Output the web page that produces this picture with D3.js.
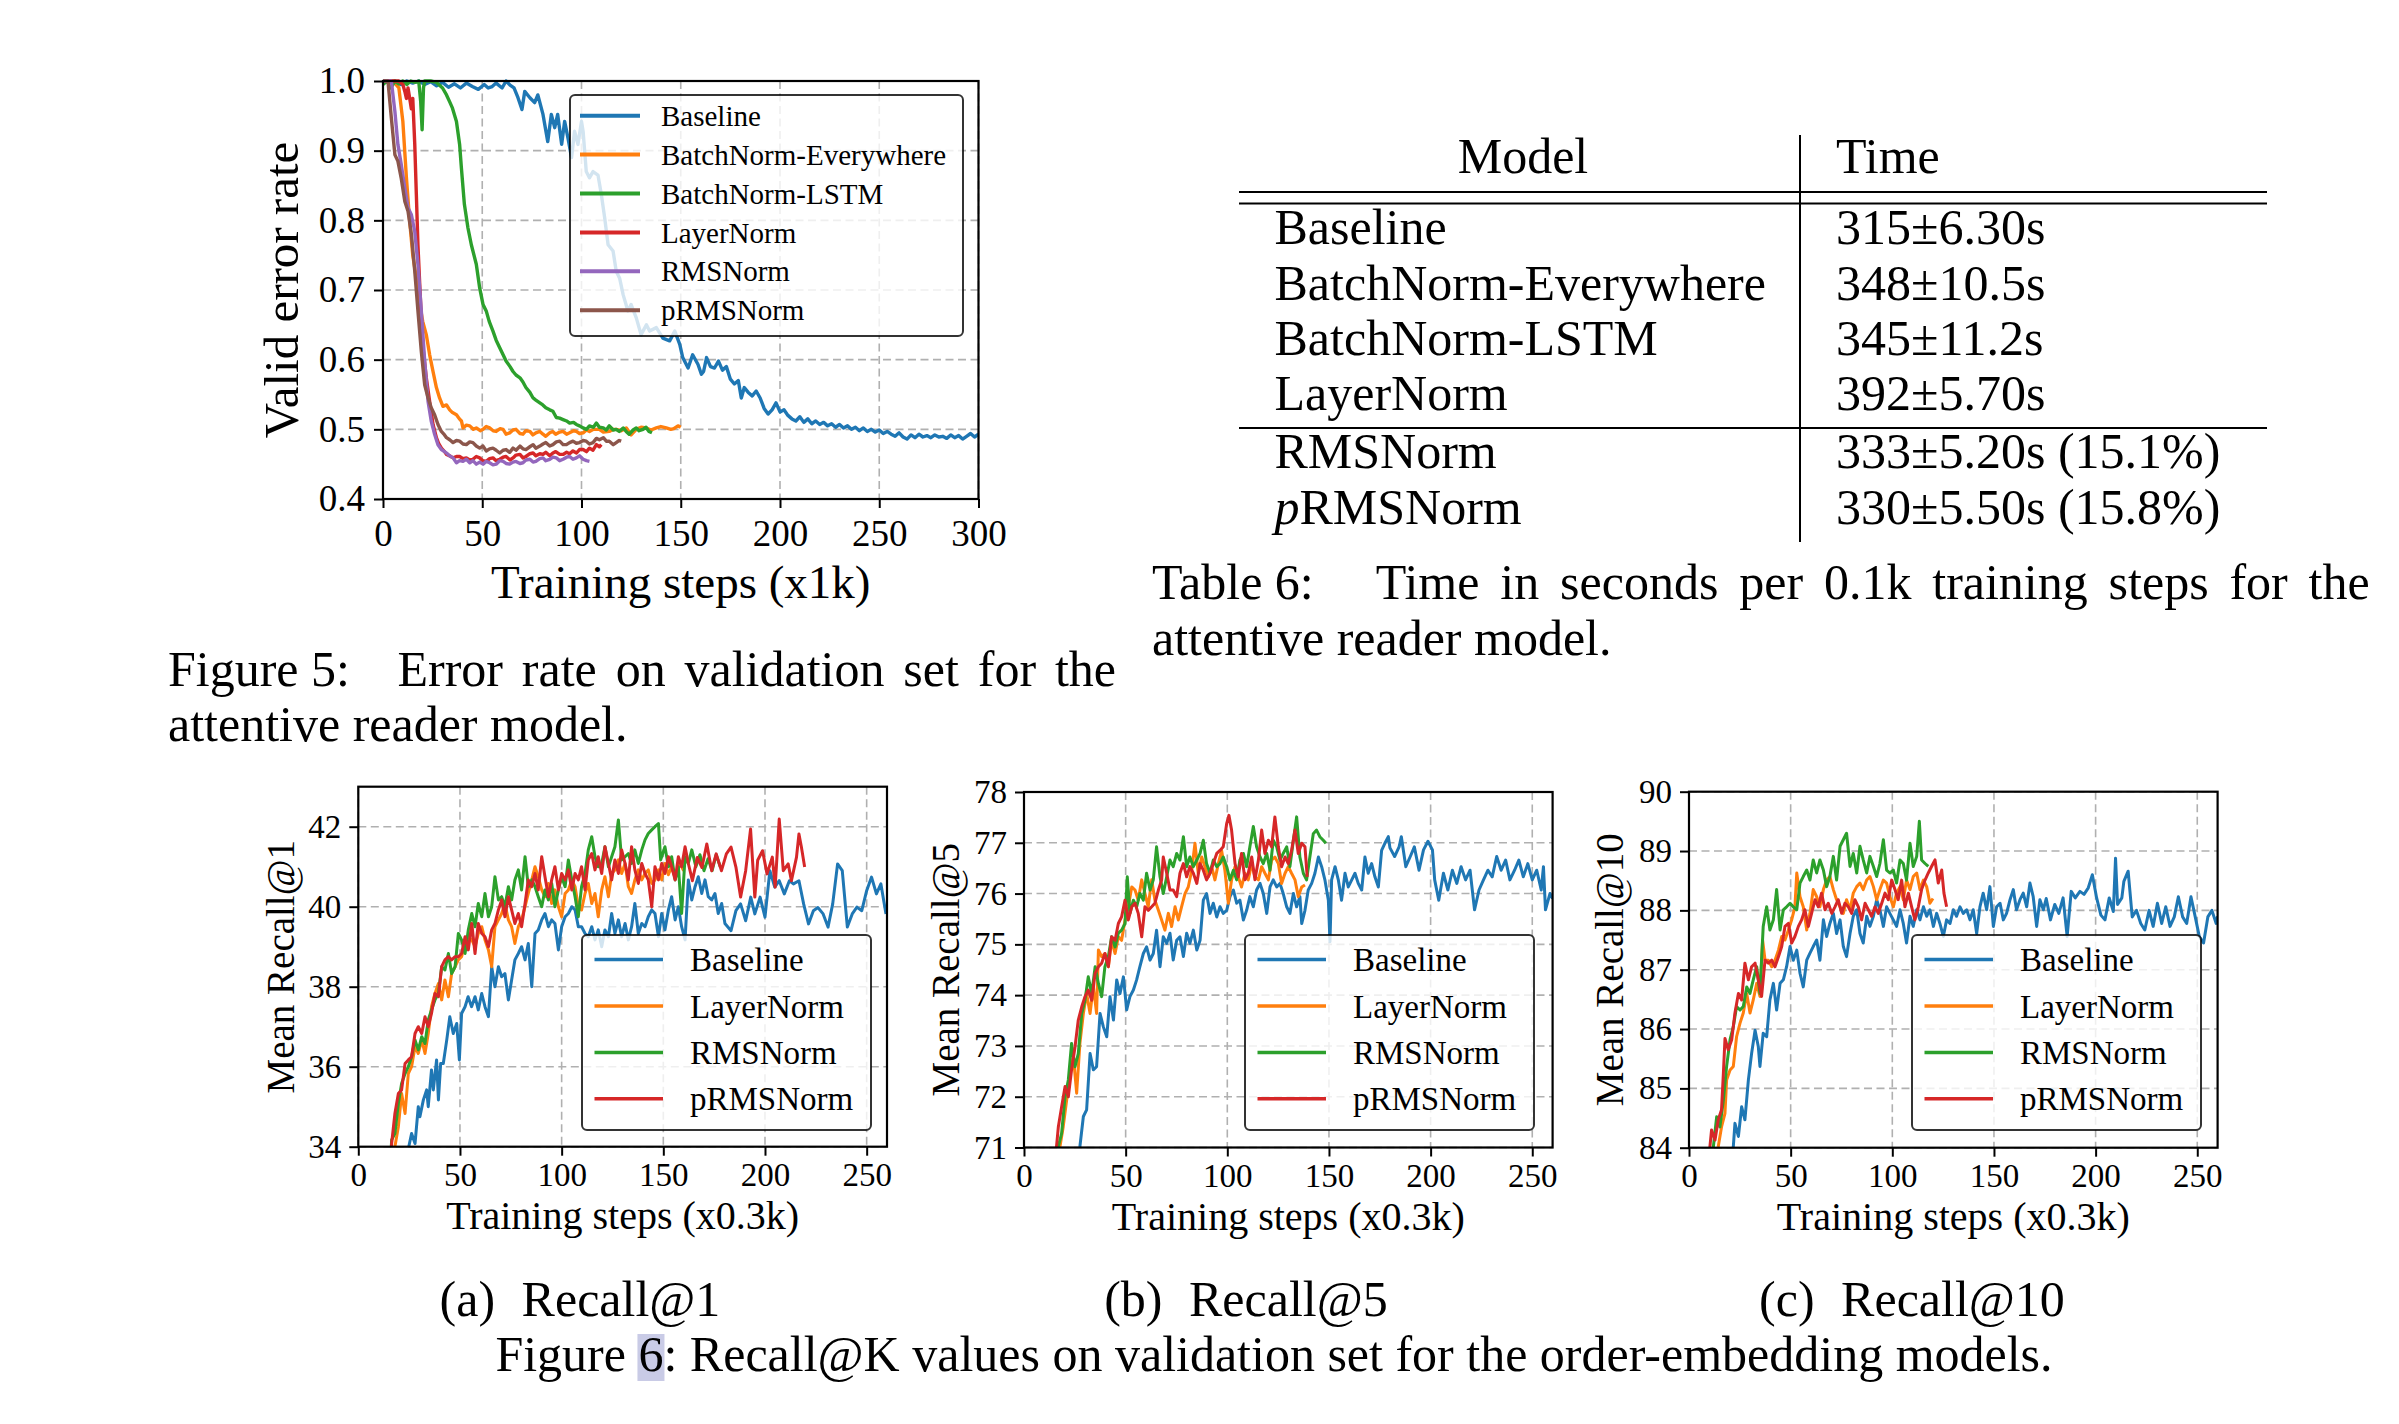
<!DOCTYPE html>
<html><head><meta charset="utf-8">
<script src="https://cdn.jsdelivr.net/npm/d3@7"></script>
<style>
body{margin:0;background:#fff}
svg{display:block}
text{font-family:"Liberation Serif","Times New Roman",serif;fill:#000}
</style>
</head><body>
<svg id="c" width="2399" height="1424"></svg>
<script>
// ---------------- DATA ----------------
const errSeriesNames = ["Baseline","BatchNorm-Everywhere","BatchNorm-LSTM","LayerNorm","RMSNorm","pRMSNorm"];
const errXTicks = [0,50,100,150,200,250,300];
const errYTicks = [0.4,0.5,0.6,0.7,0.8,0.9,1.0];

const errBaseline = [[0,1.0],[3,0.998],[6,1.0],[9,0.995],[12,1.0],[15,0.997],[18,1.0],[21,0.995],[24,0.999],[27,0.993],[30,0.998],[33,0.991],[36,0.996],[39,0.99],[42,0.997],[45,0.992],[48,0.988],[51,0.995],[53,0.99],[55,0.992],[57,0.997],[60,0.99],[62,1.0],[64,0.994],[66,0.99],[68,0.976],[70,0.959],[71.4,0.985],[74,0.976],[76.4,0.969],[78,0.98],[80.6,0.952],[83,0.913],[84.8,0.952],[86.5,0.933],[88,0.952],[90,0.909],[91.5,0.942],[93.2,0.918],[95,0.89],[96.5,0.928],[98.2,0.909],[100,0.942],[100.8,0.928],[102.4,0.87],[104,0.861],[105.8,0.87],[108.3,0.865],[110,0.837],[111.7,0.803],[113.4,0.765],[115.9,0.756],[117.5,0.727],[119.2,0.717],[121,0.693],[123.4,0.67],[125,0.679],[127.6,0.66],[130,0.636],[132.7,0.65],[134.3,0.641],[137.7,0.646],[141,0.631],[144.4,0.627],[147,0.641],[149.5,0.622],[151,0.603],[153.7,0.588],[156,0.607],[158.7,0.593],[160.4,0.579],[161.5,0.583],[163,0.603],[165,0.59],[167,0.588],[169,0.598],[171,0.585],[173,0.59],[175,0.572],[177,0.565],[179,0.57],[180.5,0.545],[182,0.56],[184,0.553],[186,0.548],[188,0.555],[190,0.545],[192,0.53],[194,0.522],[196,0.528],[198,0.538],[200,0.525],[202,0.528],[204,0.52],[206,0.515],[208,0.512],[210,0.518],[212,0.51],[214,0.515],[216,0.508],[218,0.512],[220,0.507],[222,0.51],[224,0.505],[226,0.508],[228,0.503],[230,0.507],[232,0.502],[234,0.505],[236,0.5],[238,0.503],[240,0.498],[242,0.502],[244,0.497],[246,0.5],[248,0.496],[250,0.499],[252,0.494],[254,0.497],[256,0.493],[258,0.49],[260,0.495],[262,0.489],[264,0.486],[266,0.492],[268,0.488],[270,0.493],[272,0.489],[274,0.491],[276,0.488],[278,0.492],[280,0.489],[282,0.49],[284,0.487],[286,0.492],[288,0.488],[290,0.491],[292,0.486],[294,0.49],[296,0.494],[298,0.489],[300,0.493]];
const errBNEverywhere = [[0,1.0],[5,1.0],[8,0.99],[10,0.942],[11.8,0.861],[13.4,0.80],[15,0.75],[16.8,0.717],[18.5,0.68],[20,0.655],[21.8,0.636],[23.5,0.607],[25.2,0.583],[26.9,0.56],[28.5,0.545],[30.2,0.533],[32,0.535],[33.6,0.528],[35,0.524],[37,0.521],[38.5,0.515],[39.5,0.512],[40.3,0.502],[42,0.506],[43.7,0.505],[45.5,0.5],[47,0.502],[49,0.498],[50.4,0.5],[52,0.504],[53.7,0.502],[55.5,0.498],[57,0.497],[59,0.501],[60.5,0.5],[62,0.493],[63.8,0.495],[65.5,0.499],[67,0.5],[69,0.494],[70.5,0.493],[72,0.498],[74,0.497],[75.5,0.492],[77,0.495],[79,0.497],[80.6,0.493],[82,0.49],[84,0.495],[85.5,0.497],[87,0.493],[89,0.496],[90.7,0.497],[92.5,0.493],[94,0.495],[96,0.498],[97.4,0.497],[99,0.494],[100.8,0.495],[102.5,0.499],[104,0.497],[106,0.5],[109,0.5],[111,0.496],[114,0.497],[116,0.5],[117.5,0.5],[120,0.498],[122.6,0.502],[125,0.492],[127.6,0.5],[130,0.503],[132.7,0.502],[135,0.499],[137.7,0.502],[140,0.504],[142.7,0.502],[145,0.5],[146.5,0.501],[148.6,0.505],[150,0.503]];
const errBNLSTM = [[0,0.995],[2,1.0],[4,0.99],[6,1.0],[8,0.996],[10,1.0],[12,0.995],[14,1.0],[16,0.998],[18,1.0],[19,0.97],[19.7,0.93],[20.4,0.99],[21,1.0],[24,1.0],[27,0.998],[30,0.99],[32,0.98],[33.6,0.97],[35,0.961],[37,0.942],[38.6,0.909],[39.5,0.875],[41,0.823],[42.8,0.789],[44.5,0.765],[47,0.737],[48.7,0.703],[50.4,0.679],[52,0.67],[53.5,0.655],[55.4,0.641],[57,0.628],[58.8,0.617],[60.5,0.607],[62,0.598],[64,0.59],[65.5,0.583],[67,0.578],[69,0.574],[70.5,0.568],[72,0.56],[74,0.553],[75.6,0.545],[77,0.542],[79,0.538],[80.5,0.535],[82,0.531],[84,0.528],[85.6,0.526],[87.3,0.517],[89,0.516],[90.7,0.514],[92.5,0.512],[94,0.509],[96,0.51],[97.4,0.507],[99,0.505],[100.8,0.502],[102.5,0.5],[104,0.505],[106,0.503],[107.5,0.509],[109,0.503],[111,0.502],[112.5,0.499],[114,0.505],[116,0.499],[117.5,0.5],[119,0.497],[121,0.502],[122.5,0.497],[124,0.493],[126,0.499],[127.6,0.502],[129,0.498],[131,0.5],[132.5,0.503],[134,0.497],[135.5,0.495]];
const errLayerNorm = [[0,1.0],[4,1.0],[8,1.0],[10,0.995],[11,0.985],[11.8,0.975],[12.6,0.99],[13.4,0.976],[14.3,0.96],[15,0.975],[16,0.909],[16.8,0.837],[17.6,0.765],[18.5,0.708],[19.3,0.66],[20,0.622],[21.8,0.574],[23.5,0.54],[25.2,0.507],[26.9,0.488],[28,0.48],[29.4,0.473],[31,0.468],[32,0.464],[33.5,0.462],[35.3,0.459],[37,0.461],[38.6,0.461],[40.3,0.458],[42,0.459],[43.7,0.456],[45.3,0.457],[47,0.461],[48.7,0.459],[50.3,0.455],[52,0.454],[53.7,0.458],[55.4,0.459],[57,0.455],[58.8,0.457],[60.5,0.46],[62,0.461],[64,0.456],[65.5,0.459],[67,0.463],[69,0.464],[70.5,0.459],[72,0.461],[74,0.465],[75.6,0.466],[77,0.462],[79,0.465],[80.6,0.464],[82,0.467],[84,0.462],[85.6,0.466],[87,0.468],[89,0.464],[90.7,0.464],[92.5,0.467],[94,0.465],[95.7,0.469],[97.5,0.466],[99,0.471],[100.8,0.471],[102.5,0.468],[104,0.473],[105.8,0.47],[107.5,0.478],[109,0.475],[110,0.478]];
const errRMSNorm = [[0,1.0],[3,1.0],[4.2,1.0],[6,0.956],[7.5,0.909],[9.2,0.88],[11,0.846],[12.6,0.818],[14.3,0.808],[16,0.784],[17.6,0.737],[19.3,0.67],[21,0.598],[22.7,0.54],[24.3,0.512],[26,0.493],[27.7,0.478],[29.4,0.471],[31,0.468],[32,0.466],[33.5,0.462],[35.3,0.459],[37,0.452],[38.6,0.455],[40.3,0.454],[42,0.457],[43.7,0.452],[45.3,0.455],[47,0.45],[48.7,0.453],[50.4,0.45],[52,0.454],[53.7,0.452],[55.4,0.449],[57,0.45],[58.8,0.455],[60.5,0.454],[62,0.451],[63.8,0.45],[65.5,0.453],[67,0.454],[69,0.451],[70.5,0.452],[72,0.456],[74,0.457],[75.6,0.453],[77,0.454],[79,0.458],[80.6,0.459],[82,0.455],[84,0.457],[85.6,0.46],[87.3,0.459],[89,0.455],[90.7,0.457],[92.5,0.46],[94,0.461],[95.7,0.457],[97.4,0.459],[99,0.462],[100.8,0.457],[102.5,0.455],[104,0.454]];
const errPRMSNorm = [[0,1.0],[2.5,1.0],[4.2,0.947],[6,0.894],[7.5,0.885],[9.2,0.86],[11,0.827],[12.6,0.813],[14.3,0.78],[16,0.727],[17.6,0.67],[19.3,0.612],[21,0.564],[22.7,0.545],[24.3,0.531],[26,0.521],[27.7,0.507],[29.4,0.497],[31,0.492],[32,0.488],[33.6,0.485],[35.3,0.481],[37,0.484],[38.6,0.483],[40.3,0.479],[42,0.478],[43.7,0.482],[45.3,0.481],[47,0.476],[48.7,0.473],[50.4,0.476],[52,0.469],[53.7,0.472],[55.4,0.473],[57,0.47],[58.8,0.466],[60.5,0.47],[62,0.471],[63.8,0.467],[65.5,0.473],[67,0.47],[69,0.476],[70.5,0.472],[72,0.471],[74,0.475],[75.6,0.478],[77,0.473],[79,0.476],[80.6,0.479],[82,0.481],[84,0.476],[85.6,0.478],[87.3,0.482],[89,0.483],[90.7,0.478],[92.4,0.478],[94,0.481],[95.7,0.483],[97.4,0.48],[99,0.481],[100.8,0.484],[102.4,0.483],[104,0.479],[105.8,0.481],[107.5,0.487],[109,0.485],[111,0.488],[112.5,0.483],[114,0.483],[116,0.478],[117.5,0.481],[119,0.484],[120,0.483]];

const recallSeriesNames = ["Baseline","LayerNorm","RMSNorm","pRMSNorm"];
const recallXTicks = [0,50,100,150,200,250];
const r1YTicks = [34,36,38,40,42];
const r5YTicks = [71,72,73,74,75,76,77,78];
const r10YTicks = [84,85,86,87,88,89,90];

const r1Baseline = [[24,33.8],[26.2,34.33],[27.9,34.08],[29.5,35.0],[30.3,34.75],[32,35.17],[33.6,35.42],[34.4,35.0],[36,35.92],[36.9,35.42],[38.5,36.17],[39.4,35.17],[40.5,36.08],[41.8,36.08],[43.5,36.67],[45,37.25],[46.7,36.83],[48.4,37.08],[49.7,36.17],[50.8,37.33],[52.5,37.5],[54,37.75],[55.7,37.5],[57.4,37.75],[59,37.42],[60.7,37.83],[62.3,37.5],[64,37.25],[65.6,38.5],[67.2,38.0],[68.9,38.5],[70.5,38.25],[72.1,38.33],[73.8,37.67],[75.4,38.17],[77,38.67],[78.7,38.83],[80.3,39.0],[82,38.67],[83.6,39.08],[85.3,38.0],[86.9,39.33],[88.5,39.42],[90.2,39.67],[91.8,39.83],[93.5,39.5],[95.1,39.67],[96.7,39.58],[98.4,38.92],[100,39.5],[101.7,39.75],[103.3,39.83],[105,40.0],[106.6,39.92],[108.2,39.5],[109.8,39.5],[111.5,39.33],[113.1,39.25],[114.8,39.5],[116.4,39.17],[118,39.42],[119.7,39.0],[121.3,39.42],[123,39.25],[124.6,39.83],[126.2,39.33],[127.9,39.67],[129.5,39.25],[131.2,39.58],[132.8,39.17],[134.4,39.5],[136,40.08],[137.7,39.33],[139.4,39.58],[141,39.5],[142.6,39.75],[144.3,39.92],[145.9,39.83],[147.6,39.25],[149.2,39.83],[150.8,39.42],[152.5,39.92],[154.1,40.25],[155.8,39.67],[157.4,40.0],[159,39.5],[160.7,39.17],[162.3,40.67],[164,40.17],[165.6,40.5],[167.2,40.75],[168.9,40.33],[170.5,40.67],[172.1,40.25],[173.8,40.17],[175.4,40.33],[177,39.83],[178.7,40.08],[180.3,39.58],[183.3,39.4],[185.7,39.9],[188,40.07],[190.5,39.65],[193,40.24],[195,39.82],[197.6,40.24],[200,39.74],[202.4,40.9],[204.8,40.49],[207,40.65],[209.5,40.32],[212,40.65],[214,40.57],[216.7,40.65],[219,40.07],[221.4,39.57],[223.8,39.9],[226,39.98],[228.6,39.82],[231,39.49],[233.3,40.07],[235.7,41.07],[238,40.9],[240.5,39.49],[242.9,39.82],[245.2,39.99],[247.6,39.9],[250,40.4],[252.4,40.74],[254.8,40.32],[257,40.57],[259.5,39.82]];
const r1LayerNorm = [[17,33.8],[18,34.0],[19.7,34.5],[21.3,35.33],[23,34.83],[24.6,35.83],[26.2,36.0],[27.9,36.5],[29.5,36.33],[31.2,36.67],[32.8,36.33],[34.4,36.83],[36,37.5],[37.7,37.83],[39.4,38.08],[41,37.67],[42.6,38.17],[44.3,37.75],[45.9,38.33],[47.6,38.5],[49.2,38.67],[50.8,38.75],[52.5,39.08],[54.1,39.25],[55.8,39.17],[57.4,39.0],[59,39.33],[60.7,39.5],[62.3,39.17],[64,38.92],[65.6,38.5],[67.2,39.5],[68.9,39.67],[70.5,39.83],[72.1,40.08],[73.8,39.67],[75.4,39.5],[77,39.08],[78.7,39.5],[80.3,39.67],[82,40.0],[83.6,40.33],[85.3,40.67],[86.9,41.0],[88.5,40.75],[90.2,40.42],[91.8,40.25],[93.5,40.58],[95.1,40.08],[96.7,40.42],[98.4,40.0],[100,39.75],[101.7,40.33],[103.3,40.42],[105,40.67],[106.6,40.5],[108.2,40.0],[109.8,39.92],[111.5,40.33],[113.1,40.58],[114.8,40.08],[116.4,40.33],[118,39.75],[119.7,40.42],[121.3,40.75],[123,40.25],[124.6,40.83],[126.2,40.92],[127.9,41.17],[129.5,40.83],[131.2,41.08],[132.8,40.5],[134.4,40.33],[136,40.67],[137.7,40.92],[139.4,40.67],[141,40.83],[142.6,40.92],[144.3,40.58],[145.9,40.67],[147.6,40.92],[149.2,40.67],[150.8,41.08],[152.5,40.8],[154,41.0],[156,40.7],[158,41.1],[160,40.9]];
const r1RMSNorm = [[16,33.8],[16.4,34.17],[18,34.33],[19.7,35.08],[21.3,35.58],[23,35.83],[24.6,36.0],[26.2,36.25],[27.9,36.67],[29.5,36.42],[31.2,36.75],[32.8,36.58],[34.4,37.17],[36,37.42],[37.7,37.67],[39.4,37.83],[41,38.5],[42.6,38.42],[44.3,38.83],[45.9,38.33],[47.6,38.5],[49.2,39.33],[50.8,39.17],[52.5,38.83],[54.1,39.42],[55.8,39.83],[57.4,39.5],[59,40.08],[60.7,39.75],[62.3,40.33],[64,39.75],[65.6,40.0],[67.2,40.75],[68.9,40.17],[70.5,40.25],[72.1,40.0],[73.8,40.5],[75.4,40.17],[77,40.67],[78.7,40.92],[80.3,40.42],[82,41.25],[83.6,40.5],[85.3,40.67],[86.9,40.5],[88.5,40.25],[90.2,40.0],[91.8,40.42],[93.5,40.17],[95.1,40.58],[96.7,40.0],[98.4,40.42],[100,40.75],[101.7,40.5],[103.3,41.17],[105,40.67],[106.6,40.25],[108.2,39.75],[109.8,40.5],[111.5,40.83],[113.1,41.42],[114.8,41.75],[116.4,41.25],[118,41.0],[119.7,41.08],[121.3,41.5],[123,41.0],[124.6,41.25],[126.2,41.5],[127.9,42.17],[129.5,41.17],[131.2,41.25],[132.8,41.33],[134.4,41.08],[136,41.42],[137.7,41.08],[139.4,41.42],[141,41.67],[142.6,41.83],[144.3,41.92],[145.9,42.0],[147.6,42.08],[148.7,41.17],[150.8,41.5],[152.5,41.0],[154.1,41.25],[155.8,40.67],[157.4,41.0],[159,39.83],[160.7,41.25],[162.3,41.08],[164,41.42],[166,41.0],[168,41.3],[170,40.9],[172,41.2],[174,40.9],[176,41.3],[178,41.0]];
const r1PRMSNorm = [[16,33.8],[16.4,34.08],[18,34.83],[19.7,35.33],[21.3,35.42],[23,36.08],[24.6,36.17],[26.2,36.25],[27.9,36.83],[29.5,37.0],[31.2,36.83],[32.8,37.25],[34.4,37.0],[36,37.33],[37.7,37.83],[39.4,37.75],[41,38.5],[42.6,38.67],[44.3,38.75],[45.9,38.67],[47.6,38.75],[49.2,38.75],[50.8,38.83],[52.5,39.25],[54.1,38.92],[55.8,39.58],[57.4,38.83],[59,39.58],[60.7,39.33],[62.3,39.25],[64,39.0],[65.6,39.42],[67.2,39.58],[68.9,39.92],[70.5,40.17],[72.1,39.75],[73.8,40.25],[75.4,39.92],[77,39.58],[78.7,39.83],[80.3,39.5],[82,40.08],[83.6,40.67],[85.3,40.5],[86.9,40.83],[88.5,40.42],[90.2,41.25],[91.8,40.75],[93.5,40.25],[95.1,40.67],[96.7,41.0],[98.4,40.42],[100,40.83],[101.7,40.67],[103.3,40.92],[105,40.42],[106.6,40.83],[108.2,40.67],[109.8,41.0],[111.5,40.42],[113.1,41.17],[114.8,41.33],[116.4,40.92],[118,41.25],[119.7,40.83],[121.3,41.5],[123,41.08],[124.6,40.67],[126.2,41.17],[127.9,40.83],[129.5,41.42],[131.2,41.08],[132.8,40.67],[134.4,41.5],[136,40.92],[137.7,40.58],[139.4,41.08],[141,40.83],[142.6,40.67],[144.3,40.0],[145.9,41.0],[147.6,40.67],[149.2,41.08],[150.8,40.83],[152.5,41.25],[154.1,41.0],[155.8,40.67],[157.4,41.25],[159,41.0],[160.7,41.5],[162.3,41.08],[164.3,40.65],[166.7,41.23],[169,40.98],[171.4,41.57],[173.8,40.9],[176,41.32],[178.6,40.9],[181,41.32],[183.3,41.49],[185.7,40.99],[188,40.24],[190.5,40.9],[192.9,41.94],[195,40.24],[196.4,41.16],[198.8,41.4],[201,40.82],[203.6,41.24],[205,40.49],[207,42.19],[209,40.9],[211.4,41.07],[213,40.65],[215.5,41.24],[216.7,41.82],[217.9,41.49],[219.5,40.99]];

const r5Baseline = [[27,70.9],[27.5,71.02],[29.2,71.61],[30.8,71.74],[32.5,72.85],[34.1,72.53],[35.7,72.59],[37.4,73.64],[39,73.38],[40.7,73.18],[42.3,73.97],[44,73.51],[45.6,74.3],[47.2,74.03],[48.9,74.36],[50.5,73.71],[52.1,73.97],[53.8,74.1],[55.4,74.3],[57,74.56],[58.7,74.82],[60.3,74.95],[62,74.69],[63.6,74.82],[65.2,75.28],[66.9,74.56],[68.5,75.15],[70.2,75.02],[71.8,75.22],[73.4,74.69],[75.1,75.08],[76.7,75.15],[78.4,74.76],[80,75.22],[81.6,75.02],[83.3,75.28],[85,74.89],[86.6,75.08],[88.2,75.87],[89.8,76.0],[91.5,75.61],[93.1,75.81],[94.8,75.54],[96.4,75.74],[98,75.61],[99.7,75.67],[101.3,75.94],[103,76.07],[104.6,75.81],[106.2,75.87],[107.9,75.48],[109.5,75.67],[111.1,75.94],[112.8,75.74],[114.4,76.07],[116.1,76.2],[117.7,76.0],[119.4,75.61],[121,76.13],[122.6,76.27],[124.3,76.13],[125.9,76.2],[127.5,76.0],[129.2,75.74],[130.8,75.61],[132.5,76.0],[134.1,75.74],[135.7,75.94],[136.6,75.41],[138.2,75.67],[139.8,76.07],[141.5,76.2],[143.1,76.4],[144.8,76.72],[146.4,76.53],[148,76.27],[149.7,75.87],[150.5,75.05],[151.3,76.27],[153,76.53],[154.6,76.27],[156.2,75.87],[157.9,76.4],[159.5,76.13],[161.2,76.27],[162.8,76.4],[164.4,76.2],[166.1,76.07],[167.7,76.72],[169.3,76.4],[171,76.59],[172.6,76.33],[174.3,76.13],[175.9,76.85],[177.5,76.99],[179.2,77.12],[180,76.9],[182.3,76.73],[184.5,76.92],[185.6,77.12],[187.8,76.53],[190,76.73],[192,76.92],[194.3,76.46],[196.5,76.86],[198.7,77.03],[200.9,76.86],[202,76.27],[204,75.87],[206.3,76.4],[208.5,76.07],[210.7,76.46],[212.9,76.2],[215,76.53],[217.2,76.27],[219.4,76.46],[221.6,75.68],[223.8,76.07],[226,76.27],[228.2,76.46],[230.3,76.33],[232.5,76.73],[234.7,76.46],[236.9,76.66],[239,76.27],[241.3,76.46],[243.4,76.66],[245.6,76.33],[247.8,76.59],[250,76.27],[252.2,76.46],[254.4,76.07],[255.5,76.53],[256.5,75.68],[258.7,76.0],[260,75.9]];
const r5LayerNorm = [[17,70.9],[17.7,71.02],[19.3,71.41],[21,71.94],[22.6,72.46],[24.3,72.79],[25.9,72.07],[27.5,73.05],[29.2,73.64],[30.8,74.03],[32.5,73.64],[34.1,74.17],[35.7,73.64],[36.6,74.89],[38.2,74.76],[39.8,74.82],[41.5,74.56],[43.1,75.08],[44.8,74.82],[46.4,75.15],[48,75.08],[49.7,75.48],[51.3,75.74],[53,76.13],[54.6,76.07],[56.2,75.87],[57.9,76.27],[59.5,76.0],[61.1,75.74],[62.8,76.27],[64.4,75.87],[66.1,75.67],[67.7,75.48],[69.3,75.28],[71,75.61],[72.6,75.35],[74.3,75.74],[75.9,75.48],[77.5,75.74],[79.2,76.0],[80.8,76.13],[82.5,76.46],[84.1,76.99],[85.7,76.4],[87.4,76.72],[89,76.53],[90.7,76.33],[92.3,76.53],[93.9,76.27],[95.6,76.59],[97.2,76.85],[98.8,76.46],[100.5,75.81],[102.1,76.27],[103.8,76.53],[105.4,76.33],[107,76.13],[108.7,76.4],[110.3,76.27],[112,76.59],[113.6,76.33],[115.3,76.27],[116.9,76.53],[118.5,76.4],[120.2,76.27],[121.8,76.66],[123.4,76.72],[125.1,76.59],[126.7,76.2],[128.4,76.4],[130,76.53],[131.6,76.4],[133.3,76.27],[134.9,75.94],[136.6,76.13],[138.2,76.17]];
const r5RMSNorm = [[16.5,70.9],[16.9,71.02],[18.5,71.28],[20.2,72.0],[21.8,72.33],[23.4,73.05],[25.1,72.59],[26.7,72.85],[28.4,73.64],[30,73.9],[31.6,74.36],[33.3,74.03],[35,74.56],[36.6,74.23],[38.2,73.97],[39.8,74.56],[41.5,74.76],[43.1,75.15],[44.8,74.95],[46.4,75.22],[48,75.28],[49.7,75.41],[50.8,76.33],[52.1,75.61],[53.8,75.87],[55.4,75.74],[57,76.0],[58.7,75.87],[60.3,76.4],[62,76.07],[63.6,76.27],[65.2,76.92],[66.9,76.33],[68.5,76.0],[70.2,76.33],[71.8,76.66],[73.4,76.53],[75.1,76.79],[76.7,76.66],[78.4,77.12],[80,76.53],[81.6,76.72],[83.3,76.53],[85,76.66],[86.6,76.79],[88.2,77.05],[89.8,76.59],[91.5,76.4],[93.1,76.66],[94.8,76.53],[96.4,76.59],[98,76.72],[99.7,76.53],[101.3,76.27],[103,76.46],[104.6,76.27],[106.2,76.66],[107.9,76.79],[109.5,76.53],[111.1,76.92],[112.8,77.32],[114.4,76.92],[116.1,76.72],[117.7,76.59],[119.4,76.79],[121,76.46],[122.6,77.05],[124.3,76.92],[125.9,76.66],[127.5,76.79],[129.2,76.92],[130.8,76.53],[132.5,77.05],[134.1,77.51],[135.7,76.72],[137.4,76.4],[139,76.27],[140.6,76.72],[142.3,77.18],[143.9,77.25],[145.5,77.12],[147.2,77.05],[148.5,76.99]];
const r5PRMSNorm = [[15.8,70.9],[16,71.02],[16.9,71.41],[18.5,71.8],[20.2,72.2],[21.8,72.0],[23.4,72.53],[25.1,72.98],[26.7,73.51],[28.4,73.77],[30,73.97],[31.6,74.1],[33.3,73.9],[35,74.43],[36.6,74.56],[38.2,74.63],[39.8,74.82],[41.5,74.56],[43.1,75.15],[44.8,75.08],[46.4,75.41],[48,75.54],[49.7,75.87],[51.3,75.48],[53,75.74],[54.6,75.81],[56.2,75.61],[57.9,75.15],[59.5,75.74],[61.1,75.67],[62.8,75.74],[64.4,75.81],[66.1,76.07],[67.7,76.27],[68.5,76.72],[70.2,76.4],[71.8,76.07],[73.4,76.07],[75.1,75.94],[76.7,76.4],[78.4,76.59],[80,76.33],[81.6,76.53],[83.3,76.4],[85,76.2],[86.6,76.59],[88.2,76.46],[89.8,76.27],[91.5,76.4],[93.1,76.59],[94.8,76.79],[96.4,76.85],[98,76.92],[99.7,77.38],[100.8,77.54],[102.1,77.25],[103.8,76.59],[105.4,76.33],[107,76.79],[108.7,76.27],[110.3,76.4],[112,76.72],[113.6,76.27],[115.3,76.66],[116.9,77.25],[118.5,76.79],[120.2,77.05],[121.8,76.92],[123.4,77.51],[125.1,76.92],[126.7,76.53],[128.4,76.72],[130,76.59],[131.6,76.85],[133.3,77.25],[134.9,76.79],[136.6,76.99],[138.2,76.92],[139.3,76.33]];

const r10Baseline = [[21.5,83.95],[21.8,84.02],[22.6,84.41],[24.3,84.19],[25.9,84.69],[27.5,84.47],[29.2,85.14],[30.8,85.59],[32.5,85.98],[34.1,85.7],[34.9,85.37],[36.5,85.93],[38.2,85.87],[39.8,86.49],[41.5,86.77],[43.1,86.32],[44.8,86.77],[46.4,86.83],[48,87.05],[49.7,87.39],[51.3,87.16],[53,87.33],[54.6,86.94],[56.2,86.71],[57.9,87.16],[59.5,87.28],[61.1,87.39],[62.8,87.5],[64.4,87.16],[66.1,87.84],[67.7,87.56],[69.3,87.78],[71,87.95],[72.6,87.61],[74.3,87.84],[75.9,87.39],[77.5,87.22],[79.2,87.61],[80.8,87.9],[82.5,88.01],[84.1,87.61],[85.7,87.45],[87.4,87.9],[89,87.73],[90.7,87.9],[92.3,88.18],[93.9,88.01],[95.6,87.73],[97.2,88.06],[98.8,87.95],[100.5,87.84],[102.1,87.73],[103.8,88.01],[105.4,87.78],[107,87.45],[108.7,87.9],[110.3,87.73],[112,88.01],[113.6,87.84],[115.3,88.06],[116.9,87.9],[118.5,88.01],[120.2,87.73],[121.8,87.95],[123.4,87.78],[125.1,87.56],[126.7,87.84],[128.4,87.78],[130,88.01],[131.6,87.9],[133.3,88.06],[134.9,87.95],[136.6,88.01],[138.2,87.84],[139.8,88.01],[141.5,87.61],[143.1,88.06],[144.7,88.29],[146.4,88.01],[148,88.4],[149.7,87.73],[151.3,88.06],[153,88.12],[154.6,87.84],[156.2,87.95],[157.9,88.18],[159.5,88.35],[161.1,88.01],[162.8,88.18],[164.4,88.29],[166.1,88.06],[167.7,88.46],[169.3,88.23],[171,87.73],[172.6,88.18],[174.3,88.01],[175.7,88.2],[177.8,87.84],[179.9,88.1],[181.9,87.95],[184,88.21],[186,87.56],[188,88.32],[190,88.21],[192.3,88.32],[194.3,88.27],[196.4,88.38],[198.4,88.6],[200.5,88.21],[202.6,87.92],[204.6,87.84],[206.7,88.21],[208.7,87.98],[209.8,88.88],[210.8,88.1],[212.9,88.21],[213.9,88.49],[216,88.66],[218,87.89],[220.1,88.0],[222.2,87.78],[224.2,87.67],[226.3,88.0],[228.3,87.73],[230.4,88.12],[232.5,87.78],[234.5,88.06],[236.6,87.73],[238.7,87.89],[240.7,88.23],[242.8,87.89],[244.8,87.78],[246.9,88.23],[249,87.89],[251,87.56],[253.1,87.45],[255.2,87.89],[257.2,88.0],[259.3,87.78],[260,87.9]];
const r10LayerNorm = [[14,83.95],[14.4,84.02],[16,84.35],[17.7,84.58],[18.5,85.14],[20.2,85.31],[21.8,85.37],[23.4,85.87],[25.1,86.1],[26.7,86.27],[28.4,86.6],[30,86.27],[31.6,86.49],[33.3,86.77],[34.9,86.55],[36.2,87.5],[37.4,87.16],[39,87.16],[40.7,87.05],[42.3,87.16],[44,87.33],[45.6,87.56],[47.2,87.5],[48.9,87.67],[50.5,87.84],[52.1,88.06],[53,88.63],[54.6,88.23],[56.2,88.06],[57.9,87.67],[59.5,87.95],[61.1,88.35],[62.8,88.23],[64.4,88.06],[66.1,88.35],[67.7,88.51],[69.3,88.57],[71,88.35],[72.6,88.18],[74.3,88.06],[75.9,87.95],[77.5,88.18],[79.2,88.01],[80.8,88.29],[82.5,88.4],[84.1,88.46],[85.7,88.35],[87.4,88.51],[89,88.57],[90.7,88.4],[92.3,88.18],[93.9,88.35],[95.6,88.51],[97.2,88.46],[98.8,88.23],[100.5,88.06],[102.1,88.29],[103.8,88.4],[105.4,88.18],[107,88.51],[108.7,88.35],[110.3,88.57],[112,88.63],[113.6,88.35],[115.3,88.51],[116.9,88.4],[118.5,88.12],[120,88.2]];
const r10RMSNorm = [[11.8,83.95],[12,84.02],[13.6,84.52],[15.2,84.35],[16.9,84.8],[18.5,85.37],[20.2,85.82],[21.8,86.04],[23.4,86.38],[25.1,86.32],[26.7,86.38],[28.4,86.71],[30,86.6],[31.6,86.83],[33.3,87.05],[34.9,86.6],[36.5,87.73],[38.2,88.06],[39.8,87.67],[41.5,87.84],[43.1,88.35],[44.8,87.67],[46.4,88.01],[48,88.06],[49.7,88.12],[51.3,88.06],[53,88.01],[54.6,88.46],[56.2,88.57],[57.9,88.68],[59.5,88.51],[61.1,88.85],[62.8,88.63],[64.4,88.85],[66.1,88.68],[67.7,88.4],[69.3,88.57],[71,88.91],[72.6,88.51],[74.3,89.08],[75.9,89.19],[77.5,89.3],[79.2,88.74],[80.8,88.96],[82.5,88.63],[84.1,89.08],[85.7,88.85],[87.4,88.63],[89,88.91],[90.7,88.74],[92.3,88.57],[93.9,88.79],[95.6,89.19],[97.2,88.68],[98.8,88.63],[100.5,88.68],[102.1,88.46],[103.8,88.85],[105.4,88.79],[107,88.51],[108.7,89.13],[110.3,88.74],[112,88.91],[113.3,89.5],[114.4,88.85],[116.1,88.79],[117.7,88.74]];
const r10PRMSNorm = [[10.2,83.95],[10.3,84.02],[11.1,84.3],[12.8,84.13],[14.4,84.47],[16,84.64],[16.9,85.25],[17.7,85.84],[19.3,85.65],[21,85.82],[22.6,86.27],[24.3,86.6],[25.9,86.49],[27.5,87.11],[29.2,86.83],[30.8,87.05],[32.5,87.11],[34.1,86.83],[35.7,86.55],[37.4,87.16],[39,87.11],[40.7,87.16],[42.3,87.05],[44,87.22],[45.6,87.39],[47.2,87.73],[48.9,87.78],[50.5,87.45],[52.1,87.56],[53.8,87.73],[55.4,87.84],[57,88.01],[58.7,87.73],[60.3,87.95],[62,88.18],[63.6,88.06],[65.2,88.29],[66.9,88.01],[68.5,88.12],[70.2,87.95],[71.8,88.06],[73.4,88.18],[75.1,87.95],[76.7,88.12],[78.4,88.06],[80,87.95],[81.6,88.18],[83.3,88.06],[84.9,87.84],[86.6,88.12],[88.2,88.01],[89.8,87.9],[91.5,88.06],[93.1,87.95],[94.8,88.12],[96.4,88.29],[98,88.18],[99.7,88.51],[101.3,88.35],[102.9,88.18],[104.6,88.51],[106.2,88.06],[107.9,88.29],[109.5,88.06],[111.1,87.84],[112.8,88.06],[114.4,88.35],[116.1,88.51],[117.7,88.63],[119.3,88.74],[121,88.85],[122.6,88.46],[124.3,88.68],[125.4,88.29],[126.7,88.06]];

const tableModels = ["Baseline","BatchNorm-Everywhere","BatchNorm-LSTM","LayerNorm","RMSNorm","pRMSNorm"];
const tableTimes = ["315\u00b16.30s","348\u00b110.5s","345\u00b111.2s","392\u00b15.70s","333\u00b15.20s (15.1%)","330\u00b15.50s (15.8%)"];

// ---------------- DRAWING ----------------
const svg = d3.select("#c");
svg.append("rect").attr("width",2399).attr("height",1424).attr("fill","#fff");
const C = {blue:"#1f77b4",orange:"#ff7f0e",green:"#2ca02c",red:"#d62728",purple:"#9467bd",brown:"#8c564b"};

function drawChart(cfg){
  const g = svg.append("g");
  const x = d3.scaleLinear().domain(cfg.xDomain).range([cfg.left,cfg.right]);
  const y = d3.scaleLinear().domain(cfg.yDomain).range([cfg.bottom,cfg.top]);
  const grid = g.append("g").attr("stroke","#b0b0b0").attr("stroke-width",1.6).attr("stroke-dasharray","8,4.5");
  grid.selectAll(".gx").data(cfg.xTicks).join("line").attr("x1",d=>x(d)).attr("x2",d=>x(d)).attr("y1",cfg.top).attr("y2",cfg.bottom);
  grid.selectAll(".gy").data(cfg.yTicks).join("line").attr("y1",d=>y(d)).attr("y2",d=>y(d)).attr("x1",cfg.left).attr("x2",cfg.right);
  const cid = "clip"+cfg.id;
  svg.append("clipPath").attr("id",cid).append("rect").attr("x",cfg.left).attr("y",cfg.top-2).attr("width",cfg.right-cfg.left).attr("height",cfg.bottom-cfg.top+2);
  const line = d3.line().x(d=>x(d[0])).y(d=>y(d[1]));
  const lg = g.append("g").attr("clip-path",`url(#${cid})`);
  cfg.series.forEach(s=>{
    lg.append("path").datum(s.data).attr("d",line).attr("fill","none").attr("stroke",s.color)
      .attr("stroke-width",cfg.lw).attr("stroke-linejoin","round");
  });
  const xa = g.append("g").attr("transform",`translate(0,${cfg.bottom})`)
    .call(d3.axisBottom(x).tickValues(cfg.xTicks).tickSize(9).tickPadding(cfg.xPad).tickFormat(d3.format("d")));
  const ya = g.append("g").attr("transform",`translate(${cfg.left},0)`)
    .call(d3.axisLeft(y).tickValues(cfg.yTicks).tickSize(9).tickPadding(cfg.yPad).tickFormat(cfg.yFmt));
  [xa,ya].forEach(a=>{
    a.select(".domain").remove();
    a.selectAll(".tick line").attr("stroke","#000").attr("stroke-width",2);
    a.selectAll(".tick text").attr("font-family","Liberation Serif").attr("font-size",cfg.tickSize).attr("fill","#000");
  });
  g.append("rect").attr("x",cfg.left).attr("y",cfg.top).attr("width",cfg.right-cfg.left).attr("height",cfg.bottom-cfg.top)
    .attr("fill","none").attr("stroke","#000").attr("stroke-width",2.2);
  g.append("text").attr("x",(cfg.left+cfg.right)/2).attr("y",cfg.xLabelY).attr("text-anchor","middle")
    .attr("font-size",cfg.xLabelSize).text(cfg.xLabel);
  g.append("text").attr("transform",`translate(${cfg.yLabelX},${(cfg.top+cfg.bottom)/2}) rotate(-90)`)
    .attr("text-anchor","middle").attr("font-size",cfg.yLabelSize).text(cfg.yLabel);
  const L = cfg.legend;
  const leg = g.append("g");
  leg.append("rect").attr("x",L.x).attr("y",L.y).attr("width",L.w).attr("height",L.h).attr("rx",5)
    .attr("fill","#fff").attr("fill-opacity",0.8).attr("stroke","#000").attr("stroke-opacity",0.8).attr("stroke-width",2);
  cfg.series.forEach((s,i)=>{
    const yy = L.y0 + i*L.step;
    leg.append("line").attr("x1",L.lx0).attr("x2",L.lx1).attr("y1",yy).attr("y2",yy)
      .attr("stroke",s.color).attr("stroke-width",cfg.legLw);
    leg.append("text").attr("x",L.tx).attr("y",yy).attr("dy","0.35em").attr("font-size",L.size).text(s.name);
  });
}

// Figure 5 (top-left)
const errData = [errBaseline,errBNEverywhere,errBNLSTM,errLayerNorm,errRMSNorm,errPRMSNorm];
const errColors = [C.blue,C.orange,C.green,C.red,C.purple,C.brown];
drawChart({id:"err",left:383,right:978.5,top:81,bottom:499,xDomain:[0,300],yDomain:[0.4,1.0],
  xTicks:errXTicks,yTicks:errYTicks,yFmt:d3.format(".1f"),xPad:12,yPad:9,tickSize:37,xLabelSize:47,yLabelSize:49,lw:3.4,legLw:4,
  xLabel:"Training steps (x1k)",xLabelY:598,yLabel:"Valid error rate",yLabelX:298,
  series:errSeriesNames.map((n,i)=>({name:n,color:errColors[i],data:errData[i]})),
  legend:{x:570,y:95,w:393,h:241,y0:115.7,step:38.9,lx0:580,lx1:640,tx:661,size:29}});

// Figure 6 (bottom)
const recColors = [C.blue,C.orange,C.green,C.red];
const recCfgs = [
  {id:"r1",left:358.3,right:887,top:786.7,bottom:1146.7,yDomain:[34,43],yTicks:r1YTicks,yLabel:"Mean Recall@1",yLabelX:294,
   data:[r1Baseline,r1LayerNorm,r1RMSNorm,r1PRMSNorm],lgx:582},
  {id:"r5",left:1024,right:1552.6,top:792,bottom:1147.5,yDomain:[71,78],yTicks:r5YTicks,yLabel:"Mean Recall@5",yLabelX:959,
   data:[r5Baseline,r5LayerNorm,r5RMSNorm,r5PRMSNorm],lgx:1245},
  {id:"r10",left:1689,right:2217.6,top:791.7,bottom:1147.7,yDomain:[84,90],yTicks:r10YTicks,yLabel:"Mean Recall@10",yLabelX:1623,
   data:[r10Baseline,r10LayerNorm,r10RMSNorm,r10PRMSNorm],lgx:1912}
];
recCfgs.forEach(c=>{
  drawChart({id:c.id,left:c.left,right:c.right,top:c.top,bottom:c.bottom,xDomain:[0,260],yDomain:c.yDomain,
    xTicks:recallXTicks,yTicks:c.yTicks,yFmt:d3.format("d"),xPad:7,yPad:8,tickSize:33,xLabelSize:40,yLabelSize:39,lw:3,legLw:3.5,
    xLabel:"Training steps (x0.3k)",xLabelY:c.bottom+82,yLabel:c.yLabel,yLabelX:c.yLabelX,
    series:recallSeriesNames.map((n,i)=>({name:n,color:recColors[i],data:c.data[i]})),
    legend:{x:c.lgx,y:935,w:289,h:195,y0:959.6,step:46.4,lx0:c.lgx+12.5,lx1:c.lgx+81,tx:c.lgx+108,size:33}});
});

// ---------------- TABLE 6 ----------------
const tg = svg.append("g").attr("font-size",50);
tg.append("text").attr("x",1523).attr("y",172.5).attr("text-anchor","middle").attr("font-size",50).text("Model");
tg.append("text").attr("x",1836).attr("y",172.5).attr("font-size",50).text("Time");
tg.append("line").attr("x1",1800).attr("x2",1800).attr("y1",135).attr("y2",542).attr("stroke","#000").attr("stroke-width",2);
[192,203.5].forEach(yy=>tg.append("line").attr("x1",1239).attr("x2",2267).attr("y1",yy).attr("y2",yy).attr("stroke","#000").attr("stroke-width",2.2));
tg.append("line").attr("x1",1239).attr("x2",2267).attr("y1",428).attr("y2",428).attr("stroke","#000").attr("stroke-width",2.2);
const rowY = [244,299.5,354.8,410,468,524];
tableModels.forEach((m,i)=>{
  const t = tg.append("text").attr("x",1274.5).attr("y",rowY[i]).attr("font-size",50);
  if(m.startsWith("p")){
    t.append("tspan").attr("font-style","italic").text("p");
    t.append("tspan").text(m.slice(1));
  } else t.text(m);
  tg.append("text").attr("x",1836).attr("y",rowY[i]).attr("font-size",50).text(tableTimes[i]);
});

// ---------------- CAPTIONS ----------------
function justify(words,x0,x1,yy,size){
  const t = svg.append("text").attr("y",yy).attr("font-size",size);
  const spans = words.map(w=>t.append("tspan").text(w));
  const widths = spans.map(s=>s.node().getComputedTextLength());
  const gap = (x1-x0-d3.sum(widths))/(words.length-1);
  let cx = x0;
  spans.forEach((s,i)=>{s.attr("x",cx); cx += widths[i]+gap;});
}
svg.append("text").attr("x",168).attr("y",686).attr("font-size",50).text("Figure 5:");
justify(["Error","rate","on","validation","set","for","the"],397.5,1116,686,50);
svg.append("text").attr("x",168).attr("y",741).attr("font-size",50).text("attentive reader model.");
svg.append("text").attr("x",1152).attr("y",599).attr("font-size",50).text("Table 6:");
justify(["Time","in","seconds","per","0.1k","training","steps","for","the"],1375.7,2369.7,599,50);
svg.append("text").attr("x",1152).attr("y",655).attr("font-size",50).text("attentive reader model.");
[["(a)","Recall@1",580],["(b)","Recall@5",1246],["(c)","Recall@10",1912]].forEach(([a,b,cx])=>{
  const t = svg.append("text").attr("x",cx).attr("y",1316).attr("text-anchor","middle").attr("font-size",50);
  t.append("tspan").text(a);
  t.append("tspan").attr("dx",14).text(" "+b);
});
const f6 = svg.append("text").attr("x",1274).attr("y",1371).attr("text-anchor","middle").attr("font-size",50)
  .text("Figure 6: Recall@K values on validation set for the order-embedding models.");
const ext = f6.node().getExtentOfChar(7);
svg.insert("rect",()=>f6.node()).attr("x",ext.x-1).attr("y",1371-37).attr("width",ext.width+2).attr("height",47).attr("fill","#c9cbe6");
</script>
</body></html>
